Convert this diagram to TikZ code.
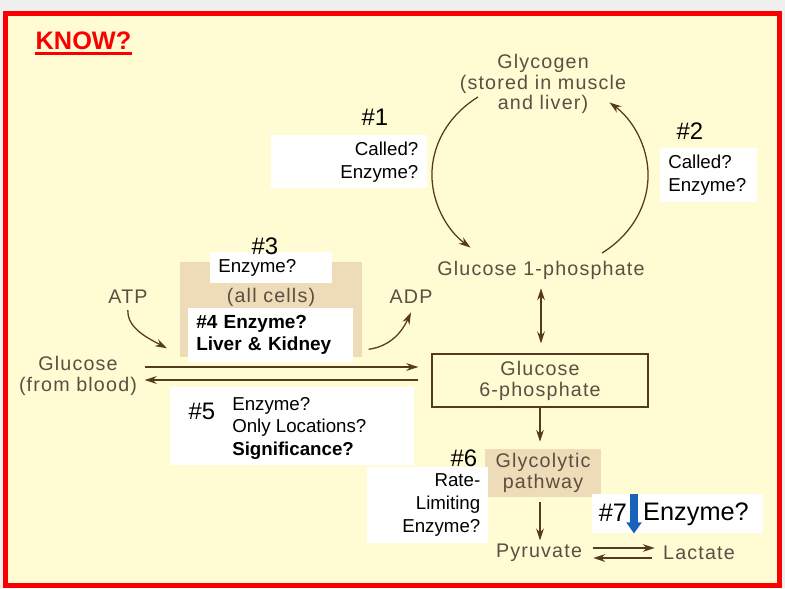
\documentclass[tikz,border=0pt]{standalone}
\usepackage{fontspec}
\setmainfont{Liberation Sans}
\newfontfamily\diagfont[LetterSpace=6]{Liberation Sans}
\usetikzlibrary{arrows.meta}

\definecolor{pagebg}{RGB}{255,252,212}
\definecolor{framered}{RGB}{250,0,0}
\definecolor{txtbrown}{RGB}{92,78,64}
\definecolor{arrbrown}{RGB}{85,58,32}
\definecolor{tanbg}{RGB}{237,220,183}
\definecolor{keyblue}{RGB}{25,98,188}

\tikzset{
  diag/.style={font=\diagfont\fontsize{14}{14.8}\selectfont, text=txtbrown, align=center, inner sep=1pt},
  flow/.style={arrbrown, line width=0.9pt, -{Stealth[length=8.5pt,width=5.5pt]}},
  flowboth/.style={arrbrown, line width=0.9pt, {Stealth[length=8.5pt,width=5.5pt]}-{Stealth[length=8.5pt,width=5.5pt]}},
  ansbox/.style={fill=white, inner sep=0pt, anchor=north west, font=\fontsize{13.3}{16.4}\selectfont},
  qnum/.style={font=\fontsize{17}{17}\selectfont, inner sep=0pt},
}

\begin{document}
\begin{tikzpicture}[x=0.025cm, y=-0.025cm]
\useasboundingbox (0,0) rectangle (785,588);
\fill[black!6] (0,0) rectangle (785,588);
\draw[framered, line width=3.6pt, fill=pagebg] (5.5,13.5) rectangle (779.5,585.5);

% title
\node[font=\bfseries\fontsize{18}{18}\selectfont, text=framered, inner sep=0pt] (know) at (83.5,41) {KNOW?};
\draw[framered, line width=2.2pt] ([yshift=-0.09cm]know.south west) -- ([yshift=-0.09cm]know.south east);

% shaded patch behind the hexokinase labels
\fill[tanbg] (180,262) rectangle (362,357);

% glycogen cycle
\node[diag] (glyco) at (543,84) {Glycogen\\(stored in muscle\\and liver)};
\node[diag] (g1p) at (541,270) {Glucose 1-phosphate};
\coordinate (arcL) at (478,97);
\coordinate (arcR) at (602,253);
\draw[flow] (arcL) arc[start angle=235, end angle=130, x radius=108, y radius=95];
\draw[flow] (arcR) arc[start angle=55, end angle=-50, x radius=108, y radius=95];

% main column
\node[diag, draw=arrbrown, line width=0.9pt, minimum width=5.4cm, minimum height=1.325cm] (g6p) at (540,380.5) {Glucose\\6-phosphate};
\node[diag, fill=tanbg, minimum width=2.875cm, minimum height=1.2cm] (glyc) at (543,473) {Glycolytic\\pathway};
\node[diag] (pyr) at (539,553) {Pyruvate};
\node[diag] (lac) at (699,553) {Lactate};
\draw[flowboth, shorten <=0.185cm, shorten >=0.25cm] (g1p.south) -- (g1p.south |- g6p.north);
\draw[flow, shorten >=0.175cm] (g6p.south) -- (g6p.south |- glyc.north);
\draw[flow, shorten <=0.125cm, shorten >=0.05cm] (glyc.south -| g6p.south) -- (g6p.south |- pyr.north);
\draw[flow, shorten <=0.24cm, shorten >=0.17cm] ([yshift=0.125cm]pyr.east) -- ([yshift=0.125cm]lac.west);
\draw[flow, shorten <=0.24cm, shorten >=0.24cm] ([yshift=-0.125cm]lac.west) -- ([yshift=-0.125cm]pyr.east);

% glucose uptake
\node[diag] (glu) at (78,376) {Glucose\\(from blood)};
\node[diag] (atp) at (128,297) {ATP};
\node[diag] (adp) at (411,297) {ADP};
\node[diag] (cells) at (271,297) {(all cells)};
\draw[flow, shorten <=0.15cm, shorten >=0.325cm] (glu.east |- 0,367) -- (g6p.west |- 0,367);
\draw[flow, shorten <=0.325cm, shorten >=0.15cm] (g6p.west |- 0,380) -- (glu.east |- 0,380);

% question boxes
\node[ansbox, minimum width=3.9cm, minimum height=1.325cm, text width=3.45cm, align=right] (box1) at (271,135) {Called?\\Enzyme?};
\node[qnum] (n1) at (375,117) {\#1};
\node[ansbox, minimum width=2.425cm, minimum height=1.35cm, text width=2.025cm, align=left] (box2) at (660,148) {Called?\\Enzyme?};
\node[qnum] (n2) at (690,131) {\#2};

\node[ansbox, minimum width=3.05cm, minimum height=0.775cm, text width=2.65cm, align=left] (box3) at (210,252) {Enzyme?};
\node[qnum] (n3) at (265,246) {\#3};
\node[ansbox, font=\bfseries\fontsize{13.5}{15.6}\selectfont, minimum width=4.125cm, minimum height=1.35cm, text width=3.725cm, align=left] (box4) at (188,308) {\#4 Enzyme?\\Liver \& Kidney};
\draw[flow, shorten <=0.115cm] (atp.south) to[out=-92, in=152] ([xshift=-0.525cm,yshift=-0.325cm]box4.west);
\draw[flow] ([xshift=0.375cm,yshift=-0.35cm]box4.east) to[out=8, in=-115] ([yshift=-0.175cm]adp.south);

\node[ansbox, minimum width=6.1cm, minimum height=1.95cm] (box5) at (170,387) {};
\node[qnum] (n5) at (202,411) {\#5};
\node[anchor=west, align=left, inner sep=0pt, font=\fontsize{13.3}{16}\selectfont] (q5) at (232,428) {Enzyme?\\Only Locations?\\\textbf{Significance?}};

\node[ansbox, minimum width=3.025cm, minimum height=1.9cm, text width=2.625cm, align=right] (box6) at (367,467) {Rate-\\Limiting\\Enzyme?};
\node[qnum] (n6) at (464,458) {\#6};

\node[ansbox, minimum width=4.275cm, minimum height=0.975cm] (box7) at (592,494) {};
\node[font=\fontsize{18}{18}\selectfont, inner sep=0pt] (n7) at (613,513) {\#7};
\node[font=\fontsize{18}{18}\selectfont, inner sep=0pt] (q7) at (696,514) {Enzyme?};
\draw[keyblue, line width=5.5pt, -{Triangle[length=8pt,width=10.5pt]}] ([xshift=1.05cm]box7.north west) -- ([xshift=1.05cm]box7.south west);
\end{tikzpicture}
\end{document}
